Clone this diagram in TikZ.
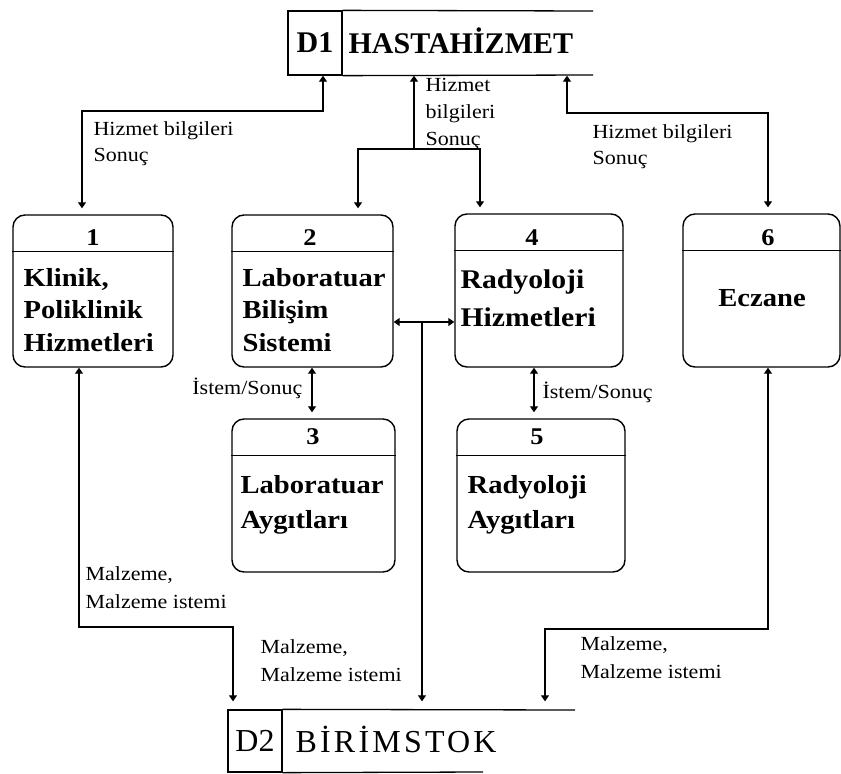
\documentclass[tikz,border=0pt]{standalone}
\usepackage{fontspec}
\setmainfont{Liberation Serif}
\newfontfamily\boxfont[FakeStretch=1.1]{Liberation Serif}
\newfontfamily\lblfont[FakeStretch=1.1]{Liberation Serif}
\newfontfamily\stockfont[LetterSpace=10]{Liberation Serif}
\usetikzlibrary{arrows.meta}

\begin{document}
\begin{tikzpicture}[x=1pt,y=-1pt,line width=1.2pt,
  proc/.style={draw,rounded corners=12pt,line width=1.4pt,inner sep=0pt},
  store/.style={draw,line width=1.3pt,inner sep=0pt,minimum width=54pt},
  num/.style={font=\boxfont\bfseries\fontsize{24}{28}\selectfont,inner sep=0pt},
  ptext/.style={font=\boxfont\bfseries\fontsize{26}{32.5}\selectfont,align=left,anchor=west,inner sep=0pt},
  lbl/.style={font=\lblfont\fontsize{20}{26}\selectfont,align=left,anchor=west,inner sep=0pt},
  tip/.tip={Triangle[width=8pt,length=6pt]},
  flow/.style={-tip},
  flow2/.style={tip-tip},
]
\useasboundingbox (0,0) rectangle (841,774);

% ---- data store D1 ----
\node[store,minimum height=64pt,font=\bfseries\fontsize{30}{34}\selectfont] (d1id) at (315,43) {D1};
\node[anchor=base west,inner sep=0pt,font=\bfseries\fontsize{30}{34}\selectfont] (d1name) at (348,53) {HASTAHİZMET};
\coordinate (d1top) at (593,11);
\coordinate (d1bot) at (593,75);
\draw[line width=1.3pt] (d1id.north east) -- (d1top);
\draw[line width=1.3pt] (d1id.south east) -- (d1bot);

% ---- data store D2 ----
\node[store,minimum height=62pt,font=\fontsize{32}{36}\selectfont] (d2id) at (255,741) {D2};
\node[anchor=base west,inner sep=0pt,font=\stockfont\fontsize{32}{36}\selectfont] (d2name) at (295,752.5) {BİRİMSTOK};
\coordinate (d2top) at (575,710);
\coordinate (d2bot) at (483,772);
\draw[line width=1.3pt] (d2id.north east) -- (d2top);
\draw[line width=1.3pt] (d2id.south east) -- (d2bot);

% ---- processes ----
\node[proc,minimum width=160pt,minimum height=152pt] (p1) at (93,291) {};
\node[proc,minimum width=161pt,minimum height=152pt] (p2) at (312.5,291) {};
\node[proc,minimum width=168pt,minimum height=153pt] (p4) at (539,290.5) {};
\node[proc,minimum width=157pt,minimum height=153pt] (p6) at (761.5,290.5) {};
\node[proc,minimum width=163pt,minimum height=153pt] (p3) at (313.5,495.5) {};
\node[proc,minimum width=168pt,minimum height=153pt] (p5) at (541,495.5) {};

\foreach \p in {p1,p2,p3,p4,p5,p6}
  \draw[line width=1.3pt] ([yshift=-37pt]\p.north west) -- ([yshift=-37pt]\p.north east);

\node[num] (n1) at (93,238) {1};
\node[num] (n2) at (310,238) {2};
\node[num] (n4) at (532,238) {4};
\node[num] (n6) at (768,238) {6};
\node[num] (n3) at (313,437) {3};
\node[num] (n5) at (537,437) {5};

\node[ptext] (t1) at (23,310) {Klinik,\\Poliklinik\\Hizmetleri};
\node[ptext] (t2) at (242,310) {Laboratuar\\Bilişim\\Sistemi};
\node[ptext,font=\boxfont\bfseries\fontsize{27}{38}\selectfont] (t4) at (460,298) {Radyoloji\\Hizmetleri};
\node[ptext,anchor=center] (t6) at (762,298) {Eczane};
\node[ptext,font=\boxfont\bfseries\fontsize{26}{35}\selectfont] (t3) at (240,505) {Laboratuar\\Aygıtları};
\node[ptext,font=\boxfont\bfseries\fontsize{26}{35}\selectfont] (t5) at (467,505) {Radyoloji\\Aygıtları};

% ---- flows between D1 and the processes ----
\coordinate (c1a) at (323,111);
\coordinate (c1b) at (82,111);
\draw[flow2,shorten >=6pt] (c1a |- d1id.south) -- (c1a) -- (c1b) -- (c1b |- p1.north);
\node[lbl] (l1) at (93,144) {Hizmet bilgileri\\Sonuç};

\coordinate (m0) at (414,149);
\coordinate (m2) at (358,149);
\coordinate (m4) at (480,149);
\draw[flow] (m0) -- (m0 |- d1id.south);
\draw[flow2,shorten <=6pt,shorten >=6pt] (m2 |- p2.north) -- (m2) -- (m4) -- (m4 |- p4.north);
\node[lbl,font=\lblfont\fontsize{20}{27}\selectfont] (l2) at (425,114) {Hizmet\\bilgileri\\Sonuç};

\coordinate (c3a) at (567,113);
\coordinate (c3b) at (768,113);
\draw[flow2,shorten >=6pt] (c3a |- d1id.south) -- (c3a) -- (c3b) -- (c3b |- p6.north);
\node[lbl] (l3) at (592,147) {Hizmet bilgileri\\Sonuç};

% ---- flows between processes ----
\coordinate (h24) at (422,322);
\draw[flow2] (h24 -| p2.east) -- (h24 -| p4.west);

\coordinate (v23) at (312,0);
\draw[flow2,shorten <=6pt] (v23 |- p3.north) -- (v23 |- p2.south);
\node[lbl,anchor=east] (l4) at (303,388) {İstem/Sonuç};

\coordinate (v45) at (534,0);
\draw[flow2,shorten <=6pt] (v45 |- p5.north) -- (v45 |- p4.south);
\node[lbl] (l5) at (542,392) {İstem/Sonuç};

% ---- flows to D2 ----
\coordinate (b1a) at (79,627);
\coordinate (b1b) at (233,627);
\draw[flow2,shorten >=8pt] (b1a |- p1.south) -- (b1a) -- (b1b) -- (b1b |- d2id.north);
\node[lbl,font=\lblfont\fontsize{20}{28}\selectfont] (l6) at (85,588) {Malzeme,\\Malzeme istemi};

\draw[flow,shorten >=8pt] (h24) -- (h24 |- d2id.north);
\node[lbl,font=\lblfont\fontsize{20}{28}\selectfont] (l7) at (260,661) {Malzeme,\\Malzeme istemi};

\coordinate (b6a) at (768,629);
\coordinate (b6b) at (545,629);
\draw[flow2,shorten >=8pt] (b6a |- p6.south) -- (b6a) -- (b6b) -- (b6b |- d2id.north);
\node[lbl,font=\lblfont\fontsize{20}{28}\selectfont] (l8) at (580,658) {Malzeme,\\Malzeme istemi};
\end{tikzpicture}
\end{document}
